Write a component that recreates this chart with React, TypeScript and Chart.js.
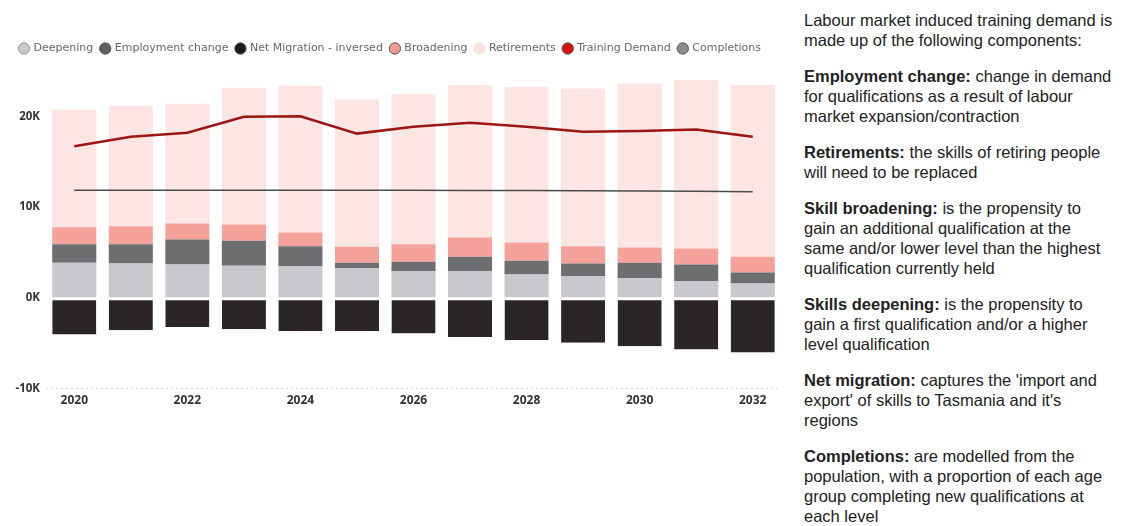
import React, { useEffect, useRef } from "react";
import { Chart, registerables } from "chart.js";

Chart.register(...registerables);

const years = ["2020", "2021", "2022", "2023", "2024", "2025", "2026", "2027", "2028", "2029", "2030", "2031", "2032"];
const deepening = [3860, 3790, 3670, 3530, 3500, 3300, 2940, 2940, 2570, 2390, 2200, 1840, 1580];
const employmentChange = [2060, 2130, 2760, 2750, 2200, 560, 1030, 1580, 1510, 1390, 1660, 1830, 1210];
const netMigration = [-4050, -3560, -3200, -3450, -3640, -3670, -3930, -4300, -4670, -4960, -5330, -5700, -6030];
const broadening = [1870, 1980, 1760, 1800, 1500, 1760, 1950, 2130, 2020, 1920, 1690, 1770, 1730];
const retirements = [12970, 13230, 13200, 15070, 16170, 16240, 16540, 16800, 17160, 17380, 18080, 18560, 18930];
const trainingDemand = [16700, 17750, 18200, 19960, 20000, 18100, 18850, 19300, 18850, 18300, 18400, 18560, 17750];
const completions = [11870, 11860, 11850, 11850, 11850, 11860, 11850, 11840, 11820, 11800, 11780, 11750, 11700];
const yTicks = [-10000, 0, 10000, 20000];

const legendColors = ["#c9c9cd", "#5e6060", "#1e1a1c", "#f19a95", "#fbe3e0", "#d81010", "#8a8c8c"];

const paragraphs: { bold: string; text: string }[] = [
  { bold: "", text: "Labour market induced training demand is made up of the following components:" },
  { bold: "Employment change:", text: " change in demand for qualifications as a result of labour market expansion/contraction" },
  { bold: "Retirements:", text: " the skills of retiring people will need to be replaced" },
  { bold: "Skill broadening:", text: " is the propensity to gain an additional qualification at the same and/or lower level than the highest qualification currently held" },
  { bold: "Skills deepening:", text: " is the propensity to gain a first qualification and/or a higher level qualification" },
  { bold: "Net migration:", text: " captures the 'import and export' of skills to Tasmania and it's regions" },
  { bold: "Completions:", text: " are modelled from the population, with a proportion of each age group completing new qualifications at each level" },
];

const legendGap = {
  id: "legendGap",
  beforeInit(chart: any) {
    const legend = chart.legend;
    if (!legend) return;
    const origFit = legend.fit;
    legend.fit = function () {
      origFit.call(this);
      this.height += 7;
    };
  },
};

function ChartBox() {
  const ref = useRef<HTMLCanvasElement | null>(null);
  useEffect(() => {
    if (!ref.current) return;
    const chart = new Chart(ref.current, {
      type: "bar",
      data: {
        labels: years,
        datasets: [
          { type: "bar", label: "Deepening", data: deepening, backgroundColor: "#c9c9cd", stack: "bars", order: 2 },
          { type: "bar", label: "Employment change", data: employmentChange, backgroundColor: "#6d6e70", stack: "bars", order: 2 },
          {
            type: "bar",
            label: "Net Migration - inversed",
            data: netMigration,
            backgroundColor: "#2b2527",
            borderColor: "#ffffff",
            borderWidth: { top: 2, bottom: 0, left: 0, right: 0 },
            borderSkipped: false,
            stack: "bars",
            order: 2,
          },
          { type: "bar", label: "Broadening", data: broadening, backgroundColor: "#f5a29b", stack: "bars", order: 2 },
          { type: "bar", label: "Retirements", data: retirements, backgroundColor: "#fce5e2", stack: "bars", order: 2 },
          { type: "line", label: "Training Demand", data: trainingDemand, borderColor: "#9c1616", backgroundColor: "#9c1616", borderWidth: 2.5, pointRadius: 0, stack: "td", order: 0, tension: 0 },
          { type: "line", label: "Completions", data: completions, borderColor: "#4a4c4c", backgroundColor: "#4a4c4c", borderWidth: 1.5, pointRadius: 0, stack: "comp", order: 1, tension: 0 },
        ] as any,
      },
      plugins: [legendGap],
      options: {
        animation: false,
        responsive: true,
        maintainAspectRatio: false,
        layout: { padding: { top: 0, right: 4, bottom: 0, left: 0 } },
        datasets: { bar: { barPercentage: 0.78, categoryPercentage: 1 } },
        plugins: {
          tooltip: { enabled: false },
          legend: {
            position: "top",
            align: "center",
            labels: {
              usePointStyle: true,
              pointStyle: "circle",
              boxWidth: 8,
              boxHeight: 8,
              padding: 8,
              color: "#666",
              font: { family: "'DejaVu Sans'", size: 11 },
              sort: (a: any, b: any) => a.datasetIndex - b.datasetIndex,
              generateLabels: (c: any) => {
                const items = Chart.defaults.plugins.legend.labels.generateLabels(c);
                return items.map((it: any) => {
                  const i = it.datasetIndex;
                  return {
                    ...it,
                    fillStyle: legendColors[i],
                    strokeStyle: i === 4 ? "#f0d0cc" : "#555",
                    lineWidth: i === 0 || i === 4 ? 0.5 : 1,
                    pointStyle: "circle",
                  };
                });
              },
            },
          },
        },
        scales: {
          x: {
            stacked: true,
            grid: { display: false, drawTicks: false },
            border: { display: false },
            ticks: {
              autoSkip: false,
              maxRotation: 0,
              padding: 5,
              color: "#333",
              font: { family: "'Open Sans'", size: 12, weight: "bold" },
              callback: (_v: any, i: number) => (i % 2 === 0 ? years[i] : ""),
            },
          },
          y: {
            stacked: true,
            min: -10000,
            max: 25000,
            afterBuildTicks: (s: any) => {
              s.ticks = yTicks.map((v) => ({ value: v }));
            },
            afterFit: (s: any) => {
              s.width = 46;
            },
            grid: {
              drawTicks: false,
              color: (ctx: any) => (ctx.tick && ctx.tick.value === -10000 ? "rgba(0,0,0,0.15)" : "rgba(0,0,0,0)"),
            },
            border: { display: false, dash: [2, 3] },
            ticks: {
              padding: 6,
              color: "#333",
              font: { family: "'Open Sans'", size: 11.5, weight: "bold" },
              callback: (v: any) => `${Math.round(Number(v) / 1000)}K`,
            },
          },
        },
      } as any,
    });
    return () => chart.destroy();
  }, []);
  return (
    <div style={{ position: "absolute", left: 0, top: 35, width: 785, height: 378 }}>
      <canvas ref={ref} />
    </div>
  );
}

export default function App() {
  return (
    <div style={{ position: "absolute", left: 0, top: 0, width: 1123, height: 526, background: "#fff", overflow: "hidden" }}>
      <ChartBox />
      <div
        style={{
          position: "absolute",
          left: 804,
          top: 10,
          width: 310,
          fontFamily: "'Liberation Sans', Arial, sans-serif",
          fontSize: 16.5,
          lineHeight: "20px",
          color: "#222",
        }}
      >
        {paragraphs.map((p, i) => (
          <p key={i} style={{ margin: "0 0 16px 0" }}>
            {p.bold ? <b>{p.bold}</b> : null}
            {p.text}
          </p>
        ))}
      </div>
    </div>
  );
}
